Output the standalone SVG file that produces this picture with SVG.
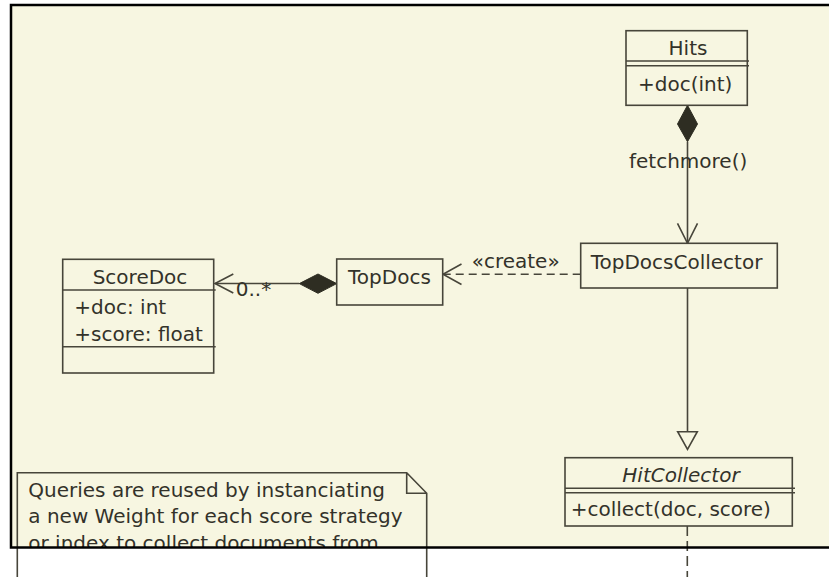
<svg xmlns="http://www.w3.org/2000/svg" width="829" height="577" viewBox="0 0 829 577">
<style>
text{font-family:"DejaVu Sans","Liberation Sans",sans-serif;font-size:20px;fill:#33322a}
.box{fill:#f7f6e1;stroke:#47453a;stroke-width:1.6}
.ln{fill:none;stroke:#47453a;stroke-width:1.6}
.dash{fill:none;stroke:#47453a;stroke-width:1.6;stroke-dasharray:8 5}
.vdash{fill:none;stroke:#47453a;stroke-width:1.6;stroke-dasharray:10 5}
.fill{fill:#2e2d22;stroke:#2e2d22;stroke-width:1}
.mid{text-anchor:middle}
</style>
<defs>
<clipPath id="inside"><rect x="11" y="5" width="830" height="542.5"/></clipPath>
</defs>
<rect x="0" y="0" width="829" height="577" fill="#ffffff"/>
<rect x="11" y="5" width="830" height="542.5" fill="#f7f6e1"/>

<g id="note">
<polygon points="17.3,472.7 406.7,472.7 426.7,493.3 426.7,577 17.3,577" fill="#f7f6e1" clip-path="url(#inside)"/>
<path class="ln" d="M17.3,577 V472.7 H406.7 L426.7,493.3 V577 M406.7,472.7 V493.3 H426.7"/>
<g clip-path="url(#inside)">
<text x="28.3" y="497.3">Queries are reused by instanciating</text>
<text x="28.3" y="523.3">a new Weight for each score strategy</text>
<text x="28.3" y="549.5">or index to collect documents from.</text>
</g>
</g>

<g id="connectors">
<polygon class="fill" points="687.5,105.3 677.5,124 687.5,141.7 697.5,124"/>
<line class="ln" x1="687.5" y1="141.7" x2="687.5" y2="243.3"/>
<polyline class="ln" points="677.5,223.3 687.5,243.3 697.5,223.3"/>
<text x="629" y="168.3">fetchmore()</text>

<line class="ln" x1="215" y1="283.5" x2="299.3" y2="283.5"/>
<polygon class="fill" points="299.3,283.6 318,274 336.7,283.6 318,293.3"/>
<polyline class="ln" points="233.3,274 215,283.5 233.3,293"/>
<text x="235.7" y="296">0..*</text>

<line class="dash" x1="580.7" y1="274.3" x2="443" y2="274.3"/>
<polyline class="ln" points="461.5,264 443,274.3 461.5,284.5"/>
<text x="471.7" y="267.7">«create»</text>

<line class="ln" x1="687.5" y1="288" x2="687.5" y2="431.7"/>
<polygon class="box" points="677.7,431.7 697.3,431.7 687.5,449.3"/>

<line class="vdash" x1="687.3" y1="526" x2="687.3" y2="577"/>
</g>

<g id="Hits">
<rect class="box" x="626" y="30.7" width="121.3" height="74.6"/>
<line class="ln" x1="626" y1="61" x2="749" y2="61"/>
<line class="ln" x1="626" y1="65.7" x2="749" y2="65.7"/>
<text class="mid" x="688" y="55.3">Hits</text>
<text x="638" y="90.7">+doc(int)</text>
</g>

<g id="TopDocsCollector">
<rect class="box" x="580.7" y="243.3" width="196.6" height="44.7"/>
<text x="590.7" y="269.3">TopDocsCollector</text>
</g>

<g id="TopDocs">
<rect class="box" x="336.7" y="259" width="106" height="46"/>
<text x="348" y="284.3">TopDocs</text>
</g>

<g id="ScoreDoc">
<rect class="box" x="62.7" y="259.3" width="151" height="113.7"/>
<line class="ln" x1="62.7" y1="290" x2="215.7" y2="290"/>
<line class="ln" x1="62.7" y1="346.7" x2="215.7" y2="346.7"/>
<text class="mid" x="140" y="284.3">ScoreDoc</text>
<text x="74.3" y="314">+doc: int</text>
<text x="74.3" y="341">+score: float</text>
</g>

<g id="HitCollector">
<rect class="box" x="565" y="457.7" width="227.3" height="68.3"/>
<line class="ln" x1="565" y1="488.3" x2="795" y2="488.3"/>
<line class="ln" x1="565" y1="492.7" x2="795" y2="492.7"/>
<text class="mid" x="681" y="481.7" font-style="italic">HitCollector</text>
<text x="570.7" y="516">+collect(doc, score)</text>
</g>

<rect x="11" y="5" width="830" height="542.5" fill="none" stroke="#000000" stroke-width="2.5"/>
</svg>
